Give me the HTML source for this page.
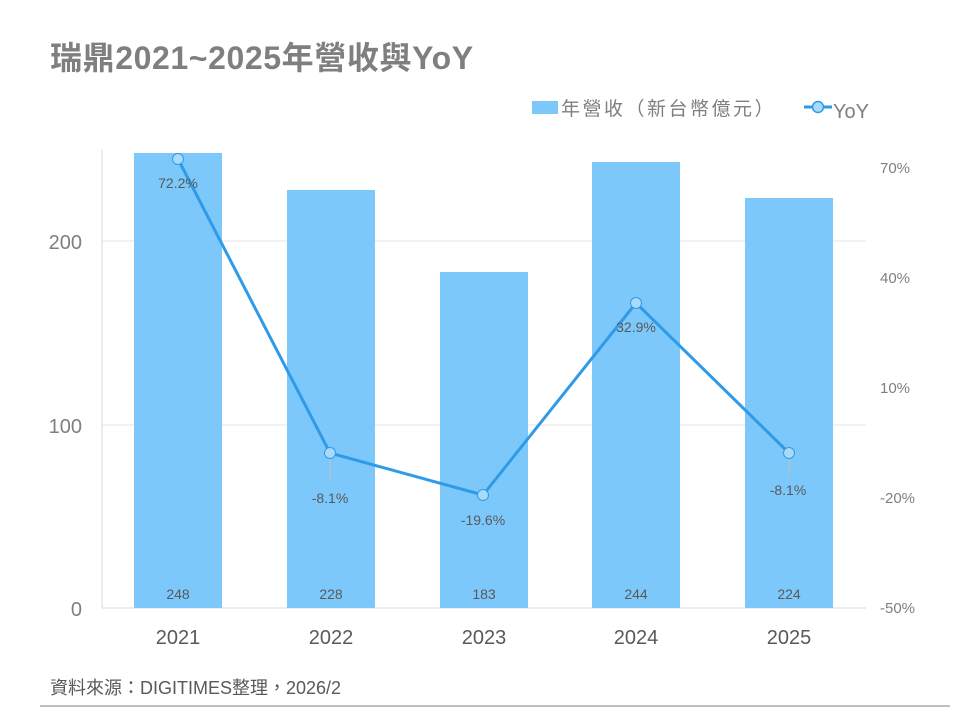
<!DOCTYPE html>
<html><head><meta charset="utf-8"><style>
body{margin:0;background:#fff;}
svg text{font-family:"Liberation Sans","Noto Sans CJK TC",sans-serif;}
</style></head><body>
<svg width="960" height="720" viewBox="0 0 960 720" xmlns="http://www.w3.org/2000/svg">
<rect width="960" height="720" fill="#fff"/>
<text x="50" y="69" font-size="32" font-weight="bold" fill="#7f7f7f" letter-spacing="0.6">瑞鼎2021~2025年營收與YoY</text>
<!-- legend -->
<rect x="532" y="101" width="26" height="13" fill="#7dc8fa"/>
<text x="561" y="115" font-size="19" fill="#7f7f7f" letter-spacing="2.5">年營收（新台幣億元）</text>
<line x1="804" y1="107" x2="832" y2="107" stroke="#2f9be8" stroke-width="3"/>
<circle cx="818" cy="107" r="5.5" fill="#a9daf9" stroke="#2f9be8" stroke-width="1.5"/>
<text x="833" y="118" font-size="20" fill="#7f7f7f">YoY</text>
<!-- grid -->
<line x1="102" y1="241" x2="866" y2="241" stroke="#e3e3e3"/>
<line x1="102" y1="425" x2="866" y2="425" stroke="#e3e3e3"/>
<line x1="102" y1="150" x2="102" y2="608" stroke="#d9d9d9"/>
<line x1="102" y1="608" x2="866" y2="608" stroke="#d9d9d9"/>
<g font-size="20" fill="#7f7f7f" text-anchor="end">
<text x="82" y="249">200</text><text x="82" y="433">100</text><text x="82" y="616">0</text>
</g>
<g font-size="15" fill="#7f7f7f">
<text x="880" y="173">70%</text><text x="880" y="283">40%</text><text x="880" y="393">10%</text>
<text x="880" y="503">-20%</text><text x="880" y="613">-50%</text>
</g>
<g fill="#7dc8fa">
<rect x="134" y="153" width="88" height="455"/>
<rect x="287" y="190" width="88" height="418"/>
<rect x="440" y="272" width="88" height="336"/>
<rect x="592" y="162" width="88" height="446"/>
<rect x="745" y="198" width="88" height="410"/>
</g>
<g font-size="14" fill="#595959" text-anchor="middle">
<text x="178" y="599">248</text><text x="331" y="599">228</text><text x="484" y="599">183</text>
<text x="636" y="599">244</text><text x="789" y="599">224</text>
</g>
<g font-size="20" fill="#595959" text-anchor="middle">
<text x="178" y="644">2021</text><text x="331" y="644">2022</text><text x="484" y="644">2023</text>
<text x="636" y="644">2024</text><text x="789" y="644">2025</text>
</g>
<line x1="330" y1="459" x2="330" y2="480" stroke="#bfbfbf"/>
<line x1="789" y1="459" x2="789" y2="476" stroke="#bfbfbf"/>
<polyline points="178,159 330,453 483,495 636,303 789,453" fill="none" stroke="#2f9be8" stroke-width="3"/>
<g fill="#a9daf9" stroke="#2f9be8" stroke-width="1">
<circle cx="178" cy="159" r="5.5"/><circle cx="330" cy="453" r="5.5"/><circle cx="483" cy="495" r="5.5"/>
<circle cx="636" cy="303" r="5.5"/><circle cx="789" cy="453" r="5.5"/>
</g>
<g font-size="14" fill="#595959" text-anchor="middle">
<text x="178" y="188">72.2%</text><text x="330" y="503">-8.1%</text><text x="483" y="525">-19.6%</text>
<text x="636" y="332">32.9%</text><text x="788" y="495">-8.1%</text>
</g>
<text x="50" y="694" font-size="18" fill="#595959">資料來源：DIGITIMES整理，2026/2</text>
<line x1="40" y1="706" x2="950" y2="706" stroke="#7f7f7f"/>
</svg>
</body></html>
